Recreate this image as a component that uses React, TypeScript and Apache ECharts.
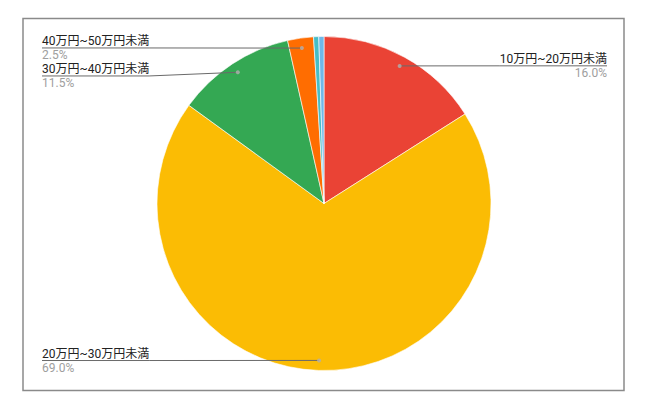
import React, { useEffect, useRef } from 'react';
import * as echarts from 'echarts';

const categories = [
  '10万円~20万円未満',
  '20万円~30万円未満',
  '30万円~40万円未満',
  '40万円~50万円未満',
  '50万円~60万円未満',
  '60万円以上',
];
const values = [16.0, 69.0, 11.5, 2.5, 0.5, 0.5];
const colors = ['#EA4335', '#FBBC04', '#34A853', '#FF6D01', '#46BDC6', '#6FB8E8'];
const showLabel = [true, true, true, true, false, false];

export default function App() {
  const ref = useRef<HTMLDivElement>(null);
  useEffect(() => {
    document.body.style.margin = '0';
    const chart = echarts.init(ref.current!, null, { renderer: 'svg' });
    const cx = 324;
    const cy = 203.5;
    const font = 'Roboto, Arial, "Noto Sans CJK JP", sans-serif';
    const total = values.reduce((a, b) => a + b, 0);
    let acc = 0;
    const mids: number[] = values.map((v) => {
      const m = acc + v / 2;
      acc += v;
      return m;
    });
    chart.setOption({
      animation: false,
      backgroundColor: '#ffffff',
      polar: { center: [cx, cy], radius: 157 },
      angleAxis: {
        type: 'value',
        min: 0,
        max: total,
        startAngle: 90,
        clockwise: true,
        show: false,
      },
      radiusAxis: { type: 'value', min: 0, max: 1, show: false },
      graphic: [
        {
          type: 'rect',
          shape: { x: 23, y: 18.5, width: 601, height: 372 },
          style: { fill: 'none', stroke: '#8a8a8a', lineWidth: 1.5 },
          silent: true,
        },
      ],
      series: [
        {
          type: 'pie',
          center: [cx, cy],
          radius: 167,
          startAngle: 90,
          clockwise: true,
          silent: true,
          z: 1,
          label: { show: false },
          labelLine: { show: false },
          itemStyle: { borderColor: '#ffffff', borderWidth: 0.6 },
          data: categories.map((n, i) => ({ name: n, value: values[i], itemStyle: { color: colors[i] } })),
        },
        {
          type: 'pie',
          center: [cx, cy],
          radius: 157,
          startAngle: 90,
          clockwise: true,
          silent: true,
          z: 3,
          itemStyle: { color: 'rgba(0,0,0,0)' },
          avoidLabelOverlap: true,
          label: {
            show: true,
            position: 'outside',
            alignTo: 'edge',
            edgeDistance: 42,
            formatter: (p: any) => `{n|${p.name}}\n{v|${Number(p.value).toFixed(1)}%}`,
            rich: {
              n: { fontSize: 12, color: '#222222', fontFamily: font, lineHeight: 14 },
              v: { fontSize: 12, color: '#9e9e9e', fontFamily: font, lineHeight: 14 },
            },
          },
          labelLine: {
            show: true,
            length: 0.1,
            length2: 8,
            lineStyle: { color: '#6a6a6a', width: 1 },
          },
          labelLayout: (p: any) => {
            const pts = p.labelLinePoints;
            if (!pts) return {};
            const r = p.labelRect;
            const left = r.x + r.width / 2 < cx;
            const y = r.y + r.height / 2;
            const near = left ? r.x + r.width : r.x;
            const far = left ? r.x : r.x + r.width;
            return { labelLinePoints: [pts[0], [near, y], [far, y]] };
          },
          data: categories.map((n, i) => ({
            name: n,
            value: values[i],
            label: { show: showLabel[i] },
            labelLine: { show: showLabel[i] },
          })),
        },
        {
          type: 'scatter',
          coordinateSystem: 'polar',
          silent: true,
          z: 4,
          symbol: 'circle',
          symbolSize: 4,
          itemStyle: { color: '#b0b0b0' },
          data: mids.map((m, i) => (showLabel[i] ? [1, m] : null)).filter((d) => d !== null),
        },
      ],
    });
    return () => chart.dispose();
  }, []);
  return <div ref={ref} style={{ width: 649, height: 410 }} />;
}
